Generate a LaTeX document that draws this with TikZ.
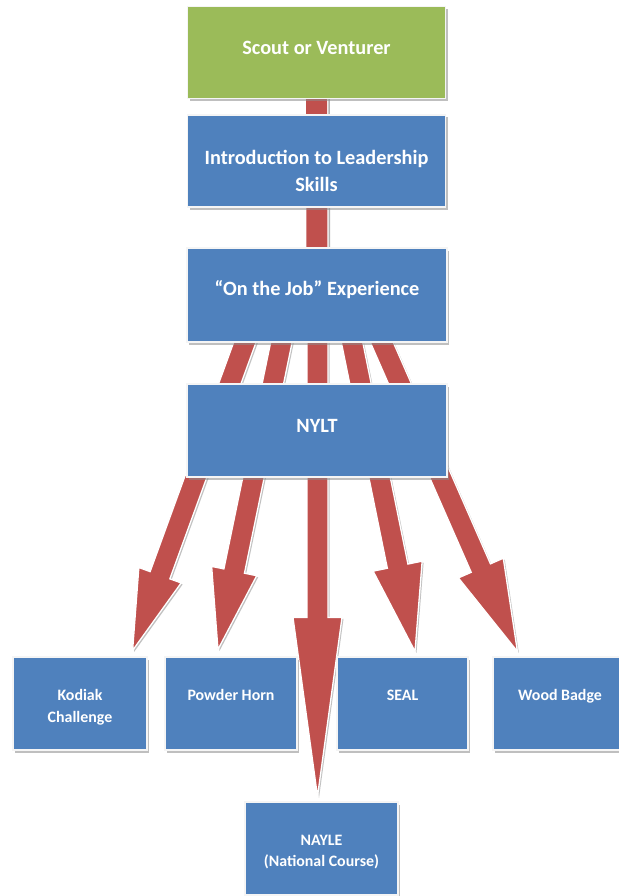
\documentclass[tikz,border=0pt]{standalone}
\usepackage{fontspec}
\setmainfont{Carlito}
\usetikzlibrary{calc,shadows}
\definecolor{boxblue}{HTML}{4F81BD}
\definecolor{boxgreen}{HTML}{9BBB59}
\definecolor{arrred}{HTML}{C0504D}
\pgfdeclarelayer{background}
\pgfsetlayers{background,main}
\newcommand\fatarrow[4]{%
  \coordinate (fa-b) at ($(#2)!#3pt!(#1)$);
  \filldraw[fatarrowstyle] ($(#1)!10.5pt!90:(#2)$) -- ($(fa-b)!10.5pt!90:(#2)$) -- ($(fa-b)!#4pt!90:(#2)$) -- (#2) -- ($(fa-b)!#4pt!-90:(#2)$) -- ($(fa-b)!10.5pt!-90:(#2)$) -- ($(#1)!10.5pt!-90:(#2)$) -- cycle;}
\begin{document}
\begin{tikzpicture}[x=1pt,y=-1pt,
  box/.style={rectangle, draw=white!92!gray, line width=1.2pt, fill=boxblue, inner sep=0pt,
    drop shadow={shadow xshift=2pt, shadow yshift=-2.5pt, fill=black!45, opacity=0.55}},
  bigbox/.style={box, minimum width=258pt, minimum height=92pt},
  smallbox/.style={box, minimum width=133pt, minimum height=93pt},
  bigtxt/.style={text=white, font=\bfseries\fontsize{20.3}{28}\selectfont, align=center, anchor=base, inner sep=0pt},
  smalltxt/.style={text=white, font=\bfseries\fontsize{15.9}{22}\selectfont, align=center, anchor=base, inner sep=0pt},
  fatarrowstyle/.style={fill=arrred, draw=white, line width=1.3pt, line join=miter,
    drop shadow={shadow xshift=1.5pt, shadow yshift=-1.5pt, fill=black!40, opacity=0.6}},
]
\useasboundingbox (0,0) rectangle (618,896);

% boxes
\node[bigbox, fill=boxgreen] (scout) at (316.5,52.5) {};
\node[bigbox] (intro) at (316.5,161) {};
\node[bigbox, minimum width=260pt, minimum height=94pt] (job) at (317,295) {};
\node[bigbox, minimum width=260pt, minimum height=93pt] (nylt) at (317,430.5) {};
\node[smallbox, minimum width=134pt] (kodiak) at (80,703.5) {};
\node[smallbox, minimum width=132pt] (powder) at (231,703.5) {};
\node[smallbox, minimum width=131pt] (seal) at (402.5,703.5) {};
\node[smallbox, minimum width=134pt] (wood) at (560,703.5) {};
\node[smallbox, minimum width=153pt] (nayle) at (321.5,848.5) {};

% texts (base anchor = baseline of the last line)
\node[bigtxt] (scout-t) at (scout.center |- 0,55) {Scout or Venturer};
\node[bigtxt] (intro-t) at (intro.center |- 0,192) {Introduction to Leadership\\Skills};
\node[bigtxt] (job-t) at (job.center |- 0,295) {“On the Job” Experience};
\node[bigtxt] (nylt-t) at (nylt.center |- 0,432) {NYLT};
\node[smalltxt] (kodiak-t) at (kodiak.center |- 0,722) {Kodiak\\Challenge};
\node[smalltxt] (powder-t) at (powder.center |- 0,700) {Powder Horn};
\node[smalltxt] (seal-t) at (seal.center |- 0,700) {SEAL};
\node[smalltxt] (wood-t) at (wood.center |- 0,700) {Wood Badge};
\node[smalltxt, font=\bfseries\fontsize{15.9}{21}\selectfont] (nayle-t) at (nayle.center |- 0,866) {NAYLE\\(National Course)};

% connectors behind the boxes
\begin{pgfonlayer}{background}
  \fill[white] (0,0) rectangle (618,896);
  \draw[arrred, line width=21pt,
    preaction={draw=black!30, line width=23.6pt, transform canvas={shift={(1.5pt,-1.5pt)}}},
    preaction={draw=white, line width=23.6pt}] (scout.center) -- (job.center);
  \coordinate (s1) at ($(job.center)+(-64,25)$);
  \coordinate (s2) at ($(job.center)+(-31,25)$);
  \coordinate (s3) at ($(job.center)+(0.5,25)$);
  \coordinate (s4) at ($(job.center)+(30.5,25)$);
  \coordinate (s5) at ($(job.center)+(55,25)$);
  \coordinate (t1) at ($(kodiak.north east)+(-15,-6)$);
  \coordinate (t2) at ($(powder.north)+(-13,-7)$);
  \coordinate (t3) at ($(nayle.north)+(-4,-5)$);
  \coordinate (t4) at ($(seal.north)+(12.5,-5)$);
  \coordinate (t5) at ($(wood.north west)+(25,-5)$);
  \fatarrow{s1}{t1}{80}{22.5}
  \fatarrow{s2}{t2}{80}{23}
  \fatarrow{s3}{t3}{179}{24.5}
  \fatarrow{s4}{t4}{87}{25}
  \fatarrow{s5}{t5}{91}{24.5}
\end{pgfonlayer}
\end{tikzpicture}
\end{document}
